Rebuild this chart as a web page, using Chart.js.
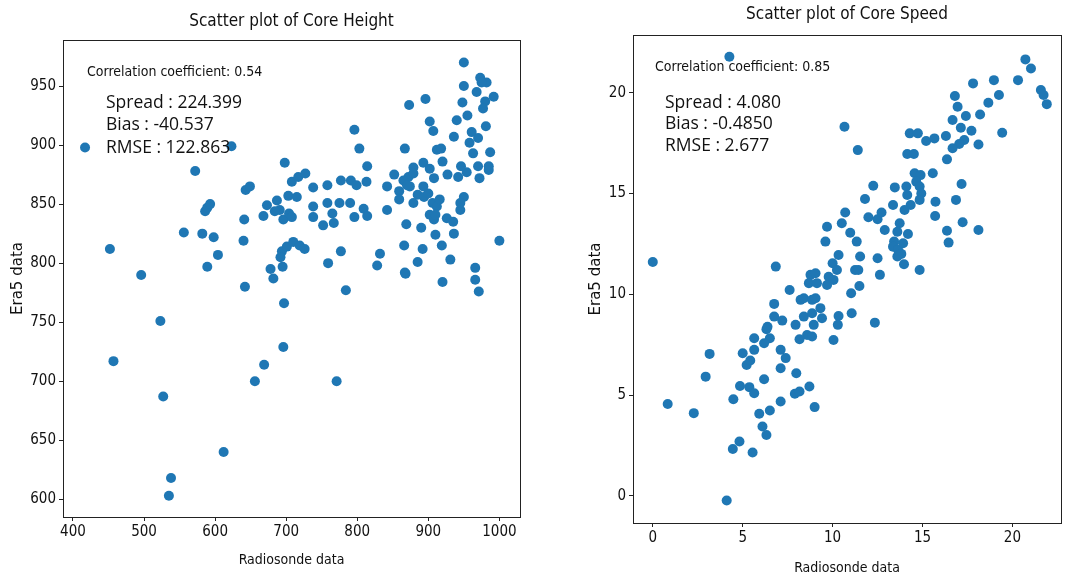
<!DOCTYPE html>
<html>
<head>
<meta charset="utf-8">
<script src="https://cdn.jsdelivr.net/npm/chart.js@4"></script>
<style>
  html, body { margin: 0; padding: 0; background: #fff; }
  .panel { position: absolute; top: 0; height: 577px; }
  #left-panel { left: 0; width: 540px; }
  #right-panel { left: 540px; width: 526px; }
</style>
</head>
<body>
<div class="panel" id="left-panel"><canvas id="height-chart"></canvas></div>
<div class="panel" id="right-panel"><canvas id="speed-chart"></canvas></div>
<script>
// Core height: radiosonde (x) vs Era5 (y)
const heightRadiosonde = [
  417, 452, 457, 496, 523, 527, 535, 538, 612, 556, 572, 623, 582, 598, 604, 589, 586, 589, 593, 641,
  640, 643, 649, 642, 698, 668, 673, 687, 691, 696, 704, 684, 708, 703, 715, 708, 717, 727, 694, 692,
  701, 710, 719, 726, 678, 682, 695, 697, 696, 669, 656, 771, 784, 738, 758, 777, 791, 799, 813, 814,
  803, 796, 738, 738, 752, 758, 765, 767, 775, 790, 796, 809, 814, 777, 759, 832, 828, 842, 842, 868,
  920, 966, 971, 966, 950, 950, 948, 955, 940, 936, 896, 873, 902, 907, 973, 982, 975, 968, 980, 977,
  992, 981, 961, 958, 970, 963, 987, 985, 970, 972, 954, 946, 942, 927, 867, 912, 918, 920, 893, 902,
  908, 879, 872, 865, 852, 859, 859, 874, 879, 885, 893, 894, 900, 906, 912, 916, 902, 908, 910, 926,
  935, 945, 950, 945, 869, 890, 910, 936, 866, 892, 919, 885, 931, 1000, 867, 870, 879, 985
];
const heightEra5 = [
  898, 812, 717, 790, 751, 687, 603, 618, 640, 826, 878, 899, 825, 822, 807, 797, 844, 847, 850, 837,
  819, 862, 865, 780, 885, 840, 849, 853, 845, 837, 842, 844, 839, 857, 856, 869, 873, 876, 810, 805,
  814, 818, 815, 812, 795, 787, 797, 766, 729, 714, 700, 700, 777, 864, 866, 870, 870, 866, 869, 882,
  897, 913, 848, 839, 832, 851, 842, 834, 851, 851, 839, 846, 840, 810, 800, 808, 798, 865, 845, 791,
  784, 786, 776, 796, 970, 950, 936, 925, 921, 907, 939, 934, 920, 912, 957, 953, 953, 945, 937, 931,
  941, 916, 911, 902, 906, 893, 894, 882, 882, 872, 877, 882, 873, 875, 897, 896, 897, 886, 885, 880,
  872, 881, 873, 870, 875, 861, 854, 865, 851, 858, 865, 856, 859, 851, 848, 854, 841, 837, 841, 838,
  835, 845, 856, 851, 833, 830, 824, 825, 815, 812, 815, 801, 803, 819, 792, 866, 876, 879
];

// Core speed: radiosonde (x) vs Era5 (y)
const speedRadiosonde = [
  4.26, 10.66, 0, 6.84, 10.7, 10.51, 9.69, 9.6, 10.33, 10.0, 10.24, 8.77, 9.05, 9.78, 20.72, 21.03, 20.31, 18.97, 17.81, 19.25,
  21.58, 21.73, 21.91, 18.66, 18.2, 16.8, 16.95, 17.41, 16.67, 17.13, 17.72, 19.43, 16.3, 17.32, 17.04, 18.11, 16.67, 16.36, 14.29, 14.74,
  15.2, 15.66, 14.15, 14.52, 15.57, 14.56, 14.89, 14.65, 14.84, 14.93, 14.1, 14.15, 14.34, 14.84, 17.17, 16.86, 15.72, 15.7, 17.23, 16.36,
  16.45, 18.11, 13.46, 12.26, 11.8, 13.36, 11.4, 10.98, 11.34, 11.99, 12.5, 12.72, 12.9, 13.42, 13.73, 13.6, 14.19, 13.36, 13.64, 13.92,
  13.82, 13.6, 13.97, 14.84, 11.53, 12.5, 11.25, 11.43, 12.63, 9.69, 10.05, 8.68, 9.13, 7.61, 8.22, 8.4, 8.86, 9.05, 6.75, 6.75,
  7.2, 7.94, 8.4, 8.86, 9.32, 9.41, 8.95, 10.33, 10.29, 11.06, 11.03, 11.49, 12.35, 6.38, 8.58, 8.86, 8.16, 10.05, 6.32, 6.51,
  6.19, 5.64, 5.64, 5.0, 5.22, 5.42, 3.16, 2.94, 2.28, 7.11, 7.39, 7.11, 7.98, 6.19, 4.85, 5.37, 5.64, 4.48, 7.9, 8.16,
  8.71, 9.0, 7.11, 6.51, 5.92, 6.1, 6.32, 4.82, 4.45, 5.55, 0.83, 4.11, 14.0
];
const speedEra5 = [
  21.78, 18.31, 11.6, 11.37, 14.05, 13.52, 13.35, 12.61, 11.95, 11.54, 11.2, 10.96, 11.04, 10.87, 21.65, 21.2, 20.62, 20.62, 20.46, 19.88,
  20.13, 19.88, 19.43, 19.5, 18.92, 19.83, 19.3, 18.84, 18.64, 18.26, 18.11, 18.01, 17.85, 17.65, 17.45, 17.43, 17.24, 16.69, 17.98, 17.98,
  17.6, 17.73, 16.96, 16.96, 16.0, 16.0, 15.91, 15.58, 15.34, 15.0, 15.34, 14.92, 14.43, 14.68, 15.47, 14.68, 14.59, 13.88, 13.57, 13.15,
  12.56, 13.19, 15.3, 15.38, 14.72, 14.43, 17.15, 13.05, 12.61, 13.82, 13.72, 14.05, 13.19, 12.61, 13.52, 13.1, 12.99, 12.36, 12.2, 12.53,
  12.0, 11.87, 11.49, 11.2, 11.87, 11.78, 11.2, 11.2, 10.96, 10.46, 10.71, 10.55, 10.55, 10.21, 9.72, 9.8, 9.72, 9.8, 9.52, 8.89,
  8.69, 8.48, 8.89, 9.06, 9.31, 8.81, 8.48, 8.92, 8.48, 9.06, 10.05, 10.41, 8.59, 8.39, 7.98, 7.9, 7.77, 7.73, 8.26, 7.82,
  7.57, 7.82, 7.24, 7.07, 6.49, 6.71, 7.04, 5.91, 4.1, 7.24, 6.83, 6.33, 6.08, 5.78, 5.45, 5.39, 5.09, 4.79, 5.06, 5.17,
  5.42, 4.4, 4.68, 4.23, 4.07, 3.44, 3.02, 2.69, 2.32, 2.15, 4.55, -0.23, 14.18
];

// Tick labels
const heightXTicks = [400, 500, 600, 700, 800, 900, 1000];
const heightYTicks = [600, 650, 700, 750, 800, 850, 900, 950];
const speedXTicks = [0, 5, 10, 15, 20];
const speedYTicks = [0, 5, 10, 15, 20];

const heightStats = ['Spread : 224.399', 'Bias : -40.537', 'RMSE : 122.863'];
const speedStats = ['Spread : 4.080', 'Bias : -0.4850', 'RMSE : 2.677'];

const dotColor = '#1f77b4';
const inkColor = '#111';
const tickFont = { family: '"DejaVu Sans Condensed", "DejaVu Sans", sans-serif', size: 15 };
const xTitleFont = { family: '"DejaVu Sans Condensed", "DejaVu Sans", sans-serif', size: 14 };
const yTitleFont = { family: '"DejaVu Sans", sans-serif', size: 15 };

function toPoints(xs, ys) {
    return xs.map((x, i) => ({ x, y: ys[i] }));
}

// matplotlib-like frame, title and text boxes
function framePlugin(opts) {
    return {
        id: 'frame',
        afterDraw: (chart) => {
            const c = chart.ctx;
            const { left, right, top, bottom } = chart.chartArea;
            c.save();
            c.strokeStyle = '#222';
            c.lineWidth = 1;
            c.strokeRect(left + 0.5, top + 0.5, right - left, bottom - top);

            c.fillStyle = inkColor;
            c.textBaseline = 'middle';
            c.textAlign = 'center';
            c.font = '17px "DejaVu Sans Condensed", "DejaVu Sans", sans-serif';
            c.fillText(opts.title, (left + right) / 2, opts.titleY);

            c.textAlign = 'left';
            c.font = '14px "DejaVu Sans Condensed", "DejaVu Sans", sans-serif';
            c.fillText(opts.corr, left + opts.corrDx, opts.corrY);

            c.font = '17.5px "Open Sans", sans-serif';
            opts.stats.forEach((line, i) => {
                c.fillText(line, left + opts.statsDx, opts.statsY + i * opts.statsGap);
            });
            c.restore();
        }
    };
}

function makeChart(canvasId, cfg) {
    const fixTicks = (list) => (scale) => {
        scale.ticks = list.map(v => ({ value: v }));
    };
    return new Chart(document.getElementById(canvasId), {
        type: 'scatter',
        data: {
            datasets: [{
                data: cfg.points,
                backgroundColor: dotColor,
                borderWidth: 0,
                pointRadius: 5,
                pointHoverRadius: 5
            }]
        },
        plugins: [framePlugin(cfg.text)],
        options: {
            responsive: true,
            maintainAspectRatio: false,
            animation: false,
            events: [],
            layout: { padding: cfg.padding },
            plugins: {
                legend: { display: false },
                tooltip: { enabled: false }
            },
            scales: {
                x: {
                    type: 'linear',
                    min: cfg.xMin,
                    max: cfg.xMax,
                    afterBuildTicks: fixTicks(cfg.xTicks),
                    afterFit: (scale) => { scale.height = cfg.xAxisHeight; },
                    grid: { drawOnChartArea: false, drawTicks: true, tickLength: 4, color: '#222' },
                    border: { display: true, color: '#222', width: 1 },
                    ticks: {
                        color: inkColor,
                        font: tickFont,
                        padding: 2,
                        maxRotation: 0,
                        autoSkip: false,
                        callback: (v) => String(v)
                    },
                    title: {
                        display: true,
                        text: 'Radiosonde data',
                        color: inkColor,
                        font: xTitleFont,
                        padding: { bottom: cfg.xTitlePad }
                    }
                },
                y: {
                    type: 'linear',
                    min: cfg.yMin,
                    max: cfg.yMax,
                    afterBuildTicks: fixTicks(cfg.yTicks),
                    afterFit: (scale) => { scale.width = cfg.yAxisWidth; },
                    grid: { drawOnChartArea: false, drawTicks: true, tickLength: 4, color: '#222' },
                    border: { display: true, color: '#222', width: 1 },
                    ticks: {
                        color: inkColor,
                        font: tickFont,
                        padding: 3,
                        autoSkip: false,
                        callback: (v) => String(v)
                    },
                    title: {
                        display: true,
                        text: 'Era5 data',
                        color: inkColor,
                        font: yTitleFont,
                        padding: { top: cfg.yTitlePad }
                    }
                }
            }
        }
    });
}

makeChart('height-chart', {
    points: toPoints(heightRadiosonde, heightEra5),
    xMin: 386, xMax: 1029, yMin: 585, yMax: 989,
    xTicks: heightXTicks, yTicks: heightYTicks,
    padding: { top: 40, right: 20, left: 0, bottom: 0 },
    xAxisHeight: 60, yAxisWidth: 63,
    xTitlePad: 8, yTitlePad: 9,
    text: {
        title: 'Scatter plot of Core Height', titleY: 22,
        corr: 'Correlation coefficient: 0.54', corrDx: 24, corrY: 72,
        stats: heightStats, statsDx: 43, statsY: 103, statsGap: 22.5
    }
});

makeChart('speed-chart', {
    points: toPoints(speedRadiosonde, speedEra5),
    xMin: -1.1, xMax: 22.7, yMin: -1.35, yMax: 22.86,
    xTicks: speedXTicks, yTicks: speedYTicks,
    padding: { top: 35, right: 2, left: 0, bottom: 0 },
    xAxisHeight: 54, yAxisWidth: 93,
    xTitlePad: 0, yTitlePad: 47,
    text: {
        title: 'Scatter plot of Core Speed', titleY: 15,
        corr: 'Correlation coefficient: 0.85', corrDx: 22, corrY: 67,
        stats: speedStats, statsDx: 32, statsY: 103, statsGap: 21.5
    }
});
</script>
</body>
</html>
